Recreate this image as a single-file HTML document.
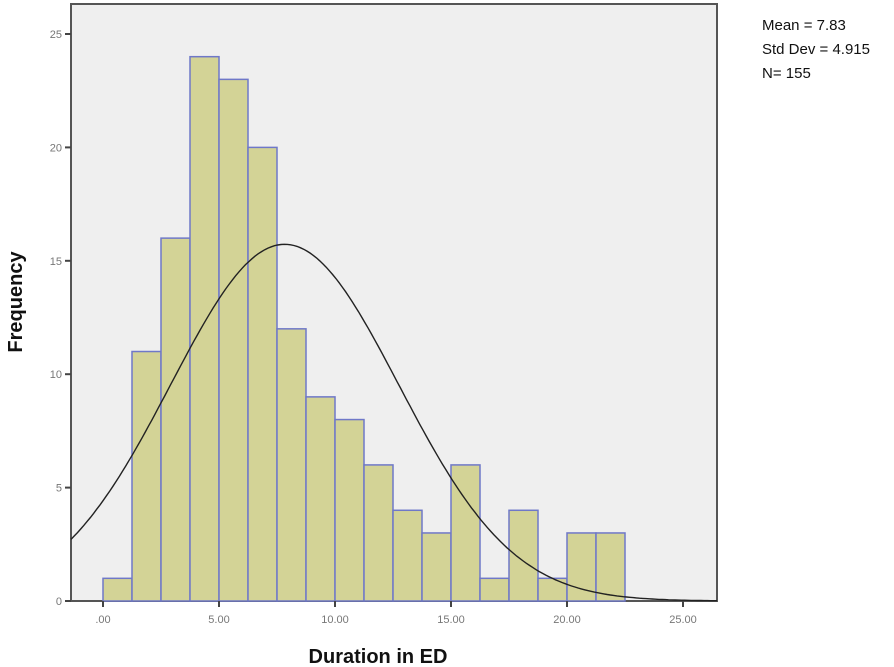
<!DOCTYPE html>
<html><head><meta charset="utf-8">
<style>
html,body{margin:0;padding:0;background:#fff;}
svg{display:block;font-family:"Liberation Sans",Arial,sans-serif;}
</style></head>
<body>
<svg id="chart" width="894" height="667" viewBox="0 0 894 667">
<rect x="71" y="4" width="646" height="597" fill="#efefef" stroke="#555" stroke-width="2"/>
<g id="bars"></g>
<path id="curve" fill="none" stroke="#222" stroke-width="1.4"/>
<g id="axes"></g>
<text x="378" y="663" font-size="20" font-weight="bold" text-anchor="middle" fill="#111">Duration in ED</text>
<text transform="translate(22,302) rotate(-90)" font-size="20" font-weight="bold" text-anchor="middle" fill="#111">Frequency</text>
<g font-size="15" fill="#111">
<text x="762" y="30">Mean = 7.83</text>
<text x="762" y="54">Std Dev = 4.915</text>
<text x="762" y="78">N= 155</text>
</g>
</svg>
<script>
const binStarts=[0,1.25,2.5,3.75,5,6.25,7.5,8.75,10,11.25,12.5,13.75,15,16.25,17.5,18.75,20,21.25];
const counts=[1,11,16,24,23,20,12,9,8,6,4,3,6,1,4,1,3,3];
const binWidth=1.25;
const xTicks=[0,5,10,15,20,25];
const xTickLabels=[".00","5.00","10.00","15.00","20.00","25.00"];
const yTicks=[0,5,10,15,20,25];
const mean=7.83, sd=4.915, n=155;

const NS="http://www.w3.org/2000/svg";
const x=v=>103+v*23.2;
const y=v=>601-v*22.68;
const bars=document.getElementById('bars');
binStarts.forEach((b,i)=>{
  const r=document.createElementNS(NS,'rect');
  r.setAttribute('x',x(b));r.setAttribute('y',y(counts[i]));
  r.setAttribute('width',x(b+binWidth)-x(b));r.setAttribute('height',y(0)-y(counts[i]));
  r.setAttribute('fill','#d3d396');r.setAttribute('stroke','#6f78c8');r.setAttribute('stroke-width','1.5');
  
  
  bars.appendChild(r);
});
let d='';
const x0=(71-103)/23.2, x1=(717-103)/23.2;
for(let k=0;k<=200;k++){
  const v=x0+(x1-x0)*k/200;
  const f=n*binWidth/(sd*Math.sqrt(2*Math.PI))*Math.exp(-0.5*((v-mean)/sd)**2);
  d+=(k?'L':'M')+x(v).toFixed(1)+','+y(f).toFixed(1);
}
document.getElementById('curve').setAttribute('d',d);
const ax=document.getElementById('axes');
function line(x1,y1,x2,y2){const l=document.createElementNS(NS,'line');l.setAttribute('x1',x1);l.setAttribute('y1',y1);l.setAttribute('x2',x2);l.setAttribute('y2',y2);l.setAttribute('stroke','#444');l.setAttribute('stroke-width','2');ax.appendChild(l);return l;}
function txt(s,tx,ty,anchor){const t=document.createElementNS(NS,'text');t.textContent=s;t.setAttribute('x',tx);t.setAttribute('y',ty);t.setAttribute('font-size','11');t.setAttribute('fill','#777');t.setAttribute('text-anchor',anchor);ax.appendChild(t);return t;}
yTicks.forEach(v=>{
  const l=line(65,y(v),71,y(v));
  
  
  const t=txt(String(v),62,y(v)+4,'end');
  
  
});
xTicks.forEach((v,i)=>{
  const l=line(x(v),601,x(v),607);
  
  
  const t=txt(xTickLabels[i],x(v),623,'middle');
  
  
});
</script>
</body></html>
